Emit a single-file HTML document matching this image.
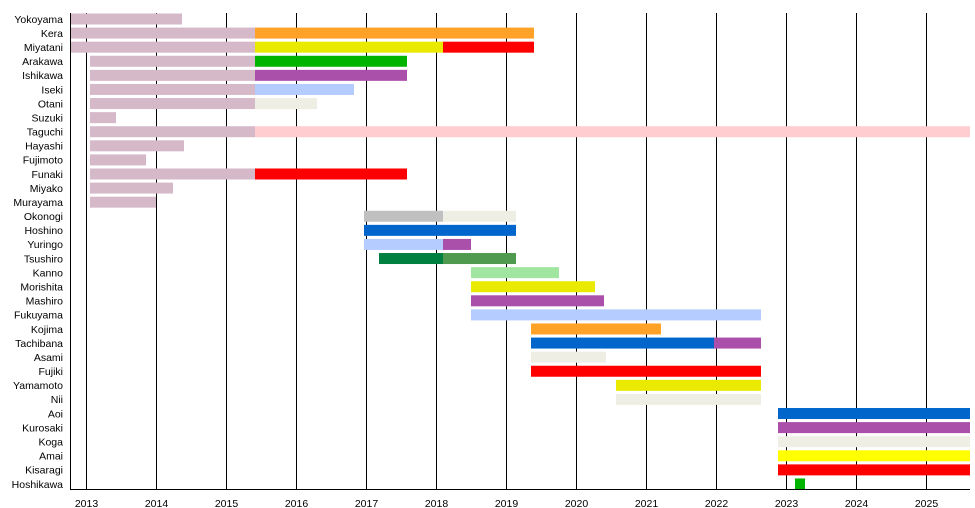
<!DOCTYPE html>
<html><head><meta charset="utf-8"><style>
html,body{margin:0;padding:0;background:#fff;}
svg{display:block;font-family:"Liberation Sans",sans-serif;}
</style></head><body>
<svg width="975" height="508" viewBox="0 0 975 508">
<g id="grid" stroke="#000" stroke-width="1"></g>
<g id="bars"></g>
<g id="labels" font-size="10.5" text-anchor="end" fill="#000"></g>
<g id="ticks" font-size="10.5" text-anchor="middle" fill="#000"></g>
<line x1="70.5" y1="13" x2="70.5" y2="489.5" stroke="#000"/>
<line x1="70" y1="489.5" x2="970" y2="489.5" stroke="#000"/>
</svg>
<script>
const M="#d6b9c9",O="#ffa227",Y="#e9ea00",R="#ff0000",G="#00b400",P="#aa4faa",LB="#b4ccff",W="#efeee4",PK="#ffccd0",B="#0066cc";
const rows=[
["Yokoyama",[[71,182,M]]],
["Kera",[[71,255,M],[255,534,O]]],
["Miyatani",[[71,255,M],[255,443,Y],[443,534,R]]],
["Arakawa",[[90,255,M],[255,407,G]]],
["Ishikawa",[[90,255,M],[255,407,P]]],
["Iseki",[[90,255,M],[255,354,LB]]],
["Otani",[[90,255,M],[255,317,W]]],
["Suzuki",[[90,116,M]]],
["Taguchi",[[90,255,M],[255,970,PK]]],
["Hayashi",[[90,184,M]]],
["Fujimoto",[[90,146,M]]],
["Funaki",[[90,255,M],[255,407,R]]],
["Miyako",[[90,173,M]]],
["Murayama",[[90,156,M]]],
["Okonogi",[[364,443,"#c0c0c0"],[443,516,W]]],
["Hoshino",[[364,516,B]]],
["Yuringo",[[364,443,LB],[443,471,P]]],
["Tsushiro",[[379,443,"#008040"],[443,516,"#4f9a4f"]]],
["Kanno",[[471,559,"#a0e6a0"]]],
["Morishita",[[471,595,Y]]],
["Mashiro",[[471,604,P]]],
["Fukuyama",[[471,761,LB]]],
["Kojima",[[531,661,O]]],
["Tachibana",[[531,714,B],[714,761,P]]],
["Asami",[[531,606,W]]],
["Fujiki",[[531,761,R]]],
["Yamamoto",[[616,761,Y]]],
["Nii",[[616,761,W]]],
["Aoi",[[778,970,B]]],
["Kurosaki",[[778,970,P]]],
["Koga",[[778,970,W]]],
["Amai",[[778,970,"#ffff00"]]],
["Kisaragi",[[778,970,R]]],
["Hoshikawa",[[795,805,G]]]];
const ns="http://www.w3.org/2000/svg";
function el(p,t,a,txt){const e=document.createElementNS(ns,t);for(const k in a)e.setAttribute(k,a[k]);if(txt)e.textContent=txt;document.getElementById(p).appendChild(e);}
rows.forEach((r,i)=>{const cy=19+14.09*i;
 el("labels","text",{x:63,y:cy+3.8},r[0]);
 r[1].forEach(s=>el("bars","rect",{x:s[0],y:cy-5.5,width:s[1]-s[0],height:11,fill:s[2]}));});
for(let y=2013;y<=2025;y++){const x=86+70*(y-2013)+0.5;
 el("grid","line",{x1:x,y1:13,x2:x,y2:489});
 el("ticks","text",{x:x,y:507},String(y));}
</script>
</body></html>
